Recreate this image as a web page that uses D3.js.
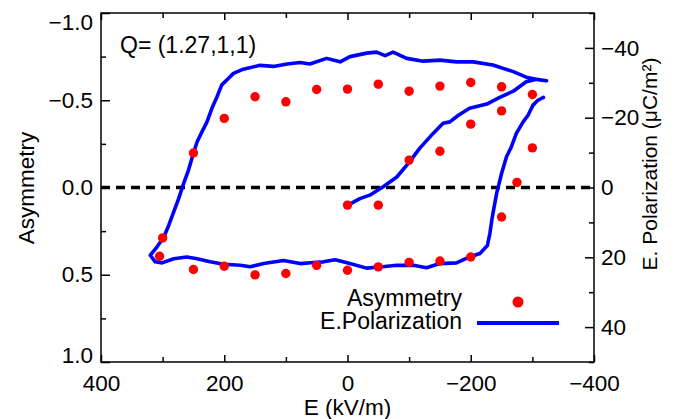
<!DOCTYPE html>
<html>
<head>
<meta charset="utf-8">
<script src="https://cdn.jsdelivr.net/npm/d3@7"></script>
<style>
  body { margin: 0; background: #fff; }
  svg text { font-family: "Liberation Sans", Arial, sans-serif; fill: #000; }
</style>
</head>
<body>
<div id="container"></div>
<script>
// polarization loop, E in kV/m, P in uC/m^2 (virgin curve, upper branch, lower branch)
const polE = [0, -20, -36, -58, -80, -101, -117, -139, -155, -166, -180, -198, -226, -247, -269, -290, -307, -323,
  -312, -290, -269, -236, -204, -177, -150, -123, -96, -74, -61, -47, -31, -4, 12, 34, 61, 77, 98, 120, 142, 169,
  185, 193, 204, 212, 220, 228, 236, 244, 250, 258, 266, 274, 282, 290, 298, 309, 320,
  312, 301, 282, 261, 244, 223, 201, 174, 158, 136, 104, 77, 55, 39, 20, -4, -31, -53, -80, -107, -128, -150,
  -177, -198, -215, -227, -231, -235, -242, -250, -258, -266, -274, -285, -293, -301, -309, -318];
const polP = [5.1, 3.2, 2.2, -0.2, -3.0, -7.4, -11.2, -15.5, -18.4, -18.8, -20.7, -22.7, -23.9, -25.8, -27.6, -30.3, -31.0, -30.6,
  -30.8, -31.6, -33.2, -35.1, -36.0, -36.0, -36.5, -36.2, -37.0, -38.8, -37.8, -38.8, -38.5, -37.5, -36.0, -37.0, -35.4, -35.8, -35.4, -34.7, -35.0, -33.9,
  -32.7, -31.3, -29.4, -25.9, -22.7, -18.8, -16.0, -13.1, -9.8, -5.0, -1.1, 3.2, 7.0, 10.8, 14.2, 17.0, 19.4,
  21.3, 21.6, 20.4, 19.9, 20.4, 21.3, 22.0, 22.3, 22.7, 21.8, 20.9, 21.8, 21.5, 21.3, 20.7, 21.8, 23.1, 22.8, 22.3, 22.3, 23.0, 21.8,
  21.6, 19.9, 18.9, 16.6, 13.2, 8.4, 1.7, -4.0, -8.8, -11.7, -15.5, -18.8, -20.7, -23.6, -25.0, -25.8];

// asymmetry points
const asymE = [250, 200, 150, 100, 50, 0, -50, -100, -150, -200, -250, -300,
  0, -50, -100, -150, -200, -250,
  -250, -275, -300,
  300, 305,
  250, 200, 150, 100, 50, 0, -50, -100, -150, -200];
const asymA = [-0.198, -0.396, -0.52, -0.491, -0.562, -0.564, -0.592, -0.552, -0.581, -0.602, -0.577, -0.533,
  0.101, 0.101, -0.157, -0.208, -0.363, -0.439,
  0.169, -0.029, -0.227,
  0.289, 0.394,
  0.470, 0.451, 0.501, 0.493, 0.446, 0.474, 0.455, 0.429, 0.421, 0.398];

const fieldTicks = [400, 200, 0, -200, -400];
const fieldMinor = [300, 100, -100, -300];
const asymTicks = [-1, -0.5, 0, 0.5, 1];
const asymMinor = [-0.75, -0.25, 0.25, 0.75];
const polTicks = [-40, -20, 0, 20, 40];
const polMinor = [-50, -30, -10, 10, 30, 50];

const W = 678, H = 419;
const margin = { top: 13, right: 84, bottom: 57, left: 101 };
const width = W - margin.left - margin.right;
const height = H - margin.top - margin.bottom;

const svg = d3.select('#container')
  .append('svg')
  .attr('width', W)
  .attr('height', H);

const g = svg.append('g')
  .attr('transform', `translate(${margin.left},${margin.top})`);

const x = d3.scaleLinear().domain([400, -400]).range([0, width]);
const yA = d3.scaleLinear().domain([-1, 1]).range([0, height]);
const yP = d3.scaleLinear().domain([-50, 50]).range([0, height]);

function tidy(sel) {
  sel.select('.domain').remove();
  sel.selectAll('line').attr('stroke', '#000').attr('stroke-width', 1.5);
  sel.selectAll('text').style('font-size', '22.5px').attr('fill', '#000');
}

// bottom + top
g.append('g').attr('transform', `translate(0,${height})`)
  .call(d3.axisBottom(x).tickValues(fieldTicks).tickSize(-7).tickPadding(13).tickFormat(d3.format('d')))
  .call(tidy);
g.append('g').attr('transform', `translate(0,${height})`)
  .call(d3.axisBottom(x).tickValues(fieldMinor).tickSize(-5).tickFormat(''))
  .call(tidy);
g.append('g')
  .call(d3.axisTop(x).tickValues(fieldTicks).tickSize(-7).tickFormat(''))
  .call(tidy);
g.append('g')
  .call(d3.axisTop(x).tickValues(fieldMinor).tickSize(-5).tickFormat(''))
  .call(tidy);

// left
g.append('g')
  .call(d3.axisLeft(yA).tickValues(asymTicks).tickSize(-9).tickPadding(8).tickFormat(d3.format('.1f')))
  .call(tidy)
  .selectAll('text')
  .attr('transform', d => d === -1 ? 'translate(0,9)' : d === 1 ? 'translate(0,-7)' : null);
g.append('g')
  .call(d3.axisLeft(yA).tickValues(asymMinor).tickSize(-5).tickFormat(''))
  .call(tidy);

// right
g.append('g').attr('transform', `translate(${width},0)`)
  .call(d3.axisRight(yP).tickValues(polTicks).tickSize(-9).tickPadding(7).tickFormat(d3.format('d')))
  .call(tidy);
g.append('g').attr('transform', `translate(${width},0)`)
  .call(d3.axisRight(yP).tickValues(polMinor).tickSize(-5).tickFormat(''))
  .call(tidy);

// frame
g.append('rect')
  .attr('width', width)
  .attr('height', height)
  .attr('fill', 'none')
  .attr('stroke', '#000')
  .attr('stroke-width', 1.5);

// zero line
g.append('line')
  .attr('x1', 0).attr('x2', width)
  .attr('y1', yA(0)).attr('y2', yA(0))
  .attr('stroke', '#000')
  .attr('stroke-width', 3.5)
  .attr('stroke-dasharray', '9,6');

// polarization loop
const line = d3.line()
  .x(d => x(d[0]))
  .y(d => yP(d[1]));
g.append('path')
  .datum(d3.zip(polE, polP))
  .attr('fill', 'none')
  .attr('stroke', '#0000ff')
  .attr('stroke-width', 3.6)
  .attr('stroke-linejoin', 'round')
  .attr('stroke-linecap', 'round')
  .attr('d', line);

// asymmetry dots
g.selectAll('.dot')
  .data(d3.zip(asymE, asymA))
  .join('circle')
  .attr('class', 'dot')
  .attr('cx', d => x(d[0]))
  .attr('cy', d => yA(d[1]))
  .attr('r', 4.7)
  .attr('fill', '#ff0000');

// annotation
svg.append('text')
  .attr('x', 120).attr('y', 53)
  .style('font-size', '23px')
  .text('Q= (1.27,1,1)');

// legend
svg.append('text')
  .attr('x', 462).attr('y', 306)
  .attr('text-anchor', 'end')
  .style('font-size', '23px')
  .text('Asymmetry');
svg.append('circle')
  .attr('cx', 518).attr('cy', 302)
  .attr('r', 5.5)
  .attr('fill', '#ff0000');
svg.append('text')
  .attr('x', 462).attr('y', 329)
  .attr('text-anchor', 'end')
  .style('font-size', '23px')
  .text('E.Polarization');
svg.append('line')
  .attr('x1', 477).attr('x2', 559)
  .attr('y1', 323).attr('y2', 323)
  .attr('stroke', '#0000ff')
  .attr('stroke-width', 4);

// axis titles
svg.append('text')
  .attr('x', margin.left + width / 2).attr('y', 415)
  .attr('text-anchor', 'middle')
  .style('font-size', '22.5px')
  .text('E (kV/m)');
svg.append('text')
  .attr('transform', 'translate(34,188) rotate(-90)')
  .attr('text-anchor', 'middle')
  .style('font-size', '22.5px')
  .text('Asymmetry');
svg.append('text')
  .attr('transform', 'translate(657,164) rotate(-90)')
  .attr('text-anchor', 'middle')
  .style('font-size', '21px')
  .text('E. Polarization (μC/m²)');
</script>
</body>
</html>
